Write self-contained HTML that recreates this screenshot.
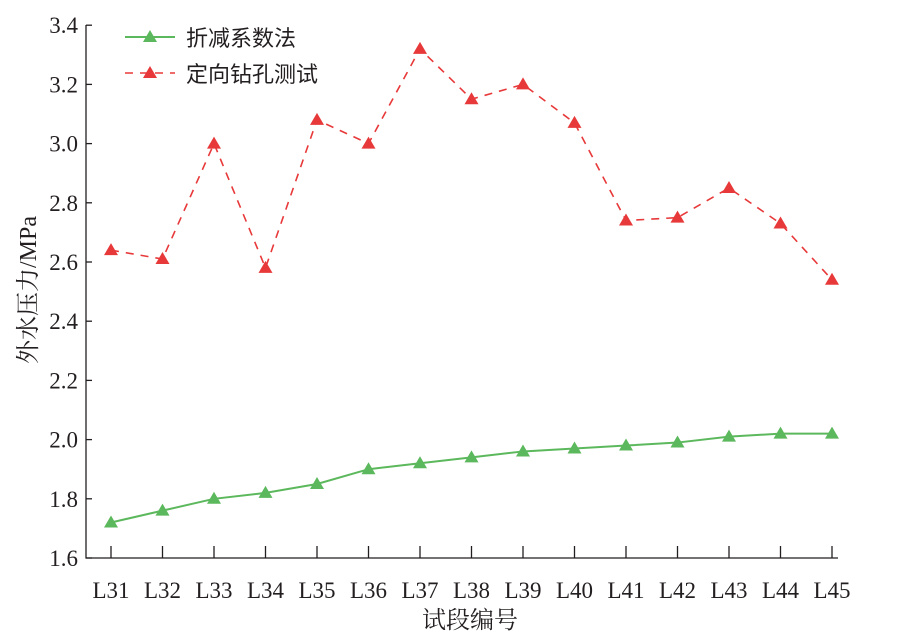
<!DOCTYPE html>
<html><head><meta charset="utf-8"><style>
body{margin:0;background:#fff}
svg{display:block;font-family:"Liberation Serif","Noto Serif CJK SC",serif}
</style></head><body>
<svg id="s" width="909" height="637" viewBox="0 0 909 637" xmlns="http://www.w3.org/2000/svg">
<g stroke="#231f20" stroke-width="1.3" fill="none">
<line x1="86" y1="25" x2="86" y2="558.5"/>
<line x1="85.5" y1="558" x2="838" y2="558"/>
</g>
<g id="g"></g>
<g font-size="24" fill="#231f20">
<text x="470" y="628" text-anchor="middle" font-family="Liberation Serif, Noto Serif CJK SC, serif">试段编号</text>
<text transform="translate(36,290) rotate(-90)" text-anchor="middle">外水压力/MPa</text>
</g>
<g font-size="22" fill="#231f20" font-family="Noto Sans CJK SC, sans-serif">
<text x="186" y="46">折减系数法</text>
<text x="186" y="82">定向钻孔测试</text>
</g>
<line x1="125" y1="37" x2="175" y2="37" stroke="#5cb85c" stroke-width="2"/>
<polygon points="150,30 157,42 143,42" fill="#5cb85c"/>
<line x1="125" y1="73" x2="175" y2="73" stroke="#e8393a" stroke-width="1.6" stroke-dasharray="8,7"/>
<polygon points="150,66 157,78 143,78" fill="#e8393a"/>
</svg>
<script>
var g=document.getElementById('g'),h='';
function Y(v){return 558-(v-1.6)/0.2*59.2}
function X(i){return 111+i*51.5}
for(var k=0;k<=9;k++){var v=1.6+k*0.2,y=Y(v);
h+='<line x1="86" y1="'+y+'" x2="92" y2="'+y+'" stroke="#231f20" stroke-width="1.3"/>';
h+='<text x="78" y="'+(y+8)+'" text-anchor="end" font-size="23" fill="#231f20">'+v.toFixed(1)+'</text>';}
for(var i=0;i<15;i++){var x=X(i);
h+='<line x1="'+x+'" y1="558" x2="'+x+'" y2="546" stroke="#231f20" stroke-width="1.3"/>';
h+='<text x="'+x+'" y="598" text-anchor="middle" font-size="23" fill="#231f20">L'+(31+i)+'</text>';}
var r=[2.64,2.61,3.00,2.58,3.08,3.00,3.32,3.15,3.20,3.07,2.74,2.75,2.85,2.73,2.54];
var gr=[1.72,1.76,1.80,1.82,1.85,1.90,1.92,1.94,1.96,1.97,1.98,1.99,2.01,2.02,2.02];
function series(d,c,dash,w){var p=d.map(function(v,i){return X(i)+','+Y(v)}).join(' ');
h+='<polyline points="'+p+'" fill="none" stroke="'+c+'" stroke-width="'+w+'" '+(dash?'stroke-dasharray="8,7"':'')+'/>';
d.forEach(function(v,i){var x=X(i),y=Y(v);h+='<polygon points="'+x+','+(y-7)+' '+(x+7)+','+(y+5)+' '+(x-7)+','+(y+5)+'" fill="'+c+'"/>';});}
series(gr,'#5cb85c',false,2);
series(r,'#e8393a',true,1.6);
g.innerHTML=h;
</script>
</body></html>
